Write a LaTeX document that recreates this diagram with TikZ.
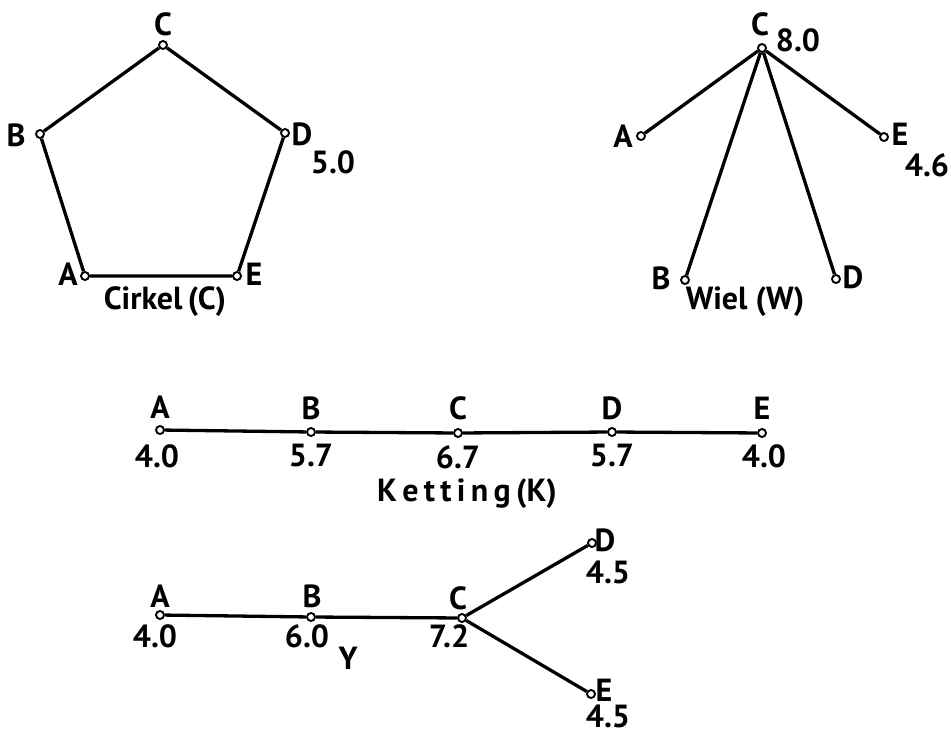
\documentclass[tikz,border=0pt]{standalone}
\usepackage{fontspec}
\setmainfont{PT Sans}
\begin{document}
\begin{tikzpicture}[x=1pt,y=-1pt,
  dot/.style={circle,draw,fill=white,inner sep=0pt,minimum size=8pt,line width=1.9pt},
  lbl/.style={inner sep=0pt,font=\fontsize{32}{34}\selectfont\bfseries},
  edge/.style={line width=3.3pt}]
\useasboundingbox (0,0) rectangle (951,736);
% Cirkel
\node[dot] (cC) at (163,45) {};
\node[dot] (cB) at (40,134) {};
\node[dot] (cD) at (285,133) {};
\node[dot] (cA) at (85,276) {};
\node[dot] (cE) at (237,276) {};
\draw[edge] (cC) -- (cD) -- (cE) -- (cA) -- (cB) -- (cC);
\node[lbl] (lcC) at (163,24) {C};
\node[lbl] (lcB) at (16,135) {B};
\node[lbl] (lcD) at (302,134) {D};
\node[lbl] (lcv) at (333,162) {5.0};
\node[lbl] (lcA) at (68,274) {A};
\node[lbl] (lcE) at (254,274) {E};
\node[lbl] (lcT) at (165,302) {Cirkel\,(C)};
% Wiel
\node[dot] (wC) at (762,48) {};
\node[dot] (wA) at (641,136) {};
\node[dot] (wE) at (884,137) {};
\node[dot] (wB) at (685,280) {};
\node[dot] (wD) at (836,279) {};
\draw[edge] (wC) -- (wA);
\draw[edge] (wC) -- (wE);
\draw[edge] (wC) -- (wB);
\draw[edge] (wC) -- (wD);
\node[lbl] (lwC) at (760,24) {C};
\node[lbl] (lwv) at (798,40) {8.0};
\node[lbl] (lwA) at (623,136) {A};
\node[lbl] (lwE) at (900,134) {E};
\node[lbl] (lwe) at (927,165) {4.6};
\node[lbl] (lwB) at (661,278) {B};
\node[lbl] (lwD) at (853,277) {D};
\node[lbl] (lwT) at (745,302) {Wiel (W)};
% Ketting
\node[dot] (kA) at (160,430) {};
\node[dot] (kB) at (311,432) {};
\node[dot] (kC) at (458,433) {};
\node[dot] (kD) at (612,432) {};
\node[dot] (kE) at (762,433) {};
\draw[edge] (kA) -- (kB) -- (kC) -- (kD) -- (kE);
\node[lbl] (lkA) at (160,407) {A};
\node[lbl] (lkB) at (311,408) {B};
\node[lbl] (lkC) at (458,408) {C};
\node[lbl] (lkD) at (612,408) {D};
\node[lbl] (lkE) at (762,408) {E};
\node[lbl] (lka) at (157,456) {4.0};
\node[lbl] (lkb) at (311,456) {5.7};
\node[lbl] (lkc) at (458,457) {6.7};
\node[lbl] (lkd) at (612,456) {5.7};
\node[lbl] (lke) at (764,456) {4.0};
\node[lbl] (lkT) at (467,494) {K\,e\,t\,t\,i\,n\,g\,(K)};
% Y
\node[dot] (yA) at (160,615) {};
\node[dot] (yB) at (311,617) {};
\node[dot] (yC) at (462,618) {};
\node[dot] (yD) at (592,543) {};
\node[dot] (yE) at (591,694) {};
\draw[edge] (yA) -- (yB) -- (yC);
\draw[edge] (yC) -- (yD);
\draw[edge] (yC) -- (yE);
\node[lbl] (lyA) at (160,596) {A};
\node[lbl] (lyB) at (312,596) {B};
\node[lbl] (lyC) at (458,598) {C};
\node[lbl] (lyD) at (605,540) {D};
\node[lbl] (lyE) at (604,690) {E};
\node[lbl] (lyd) at (608,572) {4.5};
\node[lbl] (lye) at (608,716) {4.5};
\node[lbl] (lya) at (155,636) {4.0};
\node[lbl] (lyb) at (307,636) {6.0};
\node[lbl] (lyc) at (449,636) {7.2};
\node[lbl] (lyT) at (348,658) {Y};
\end{tikzpicture}
\end{document}
